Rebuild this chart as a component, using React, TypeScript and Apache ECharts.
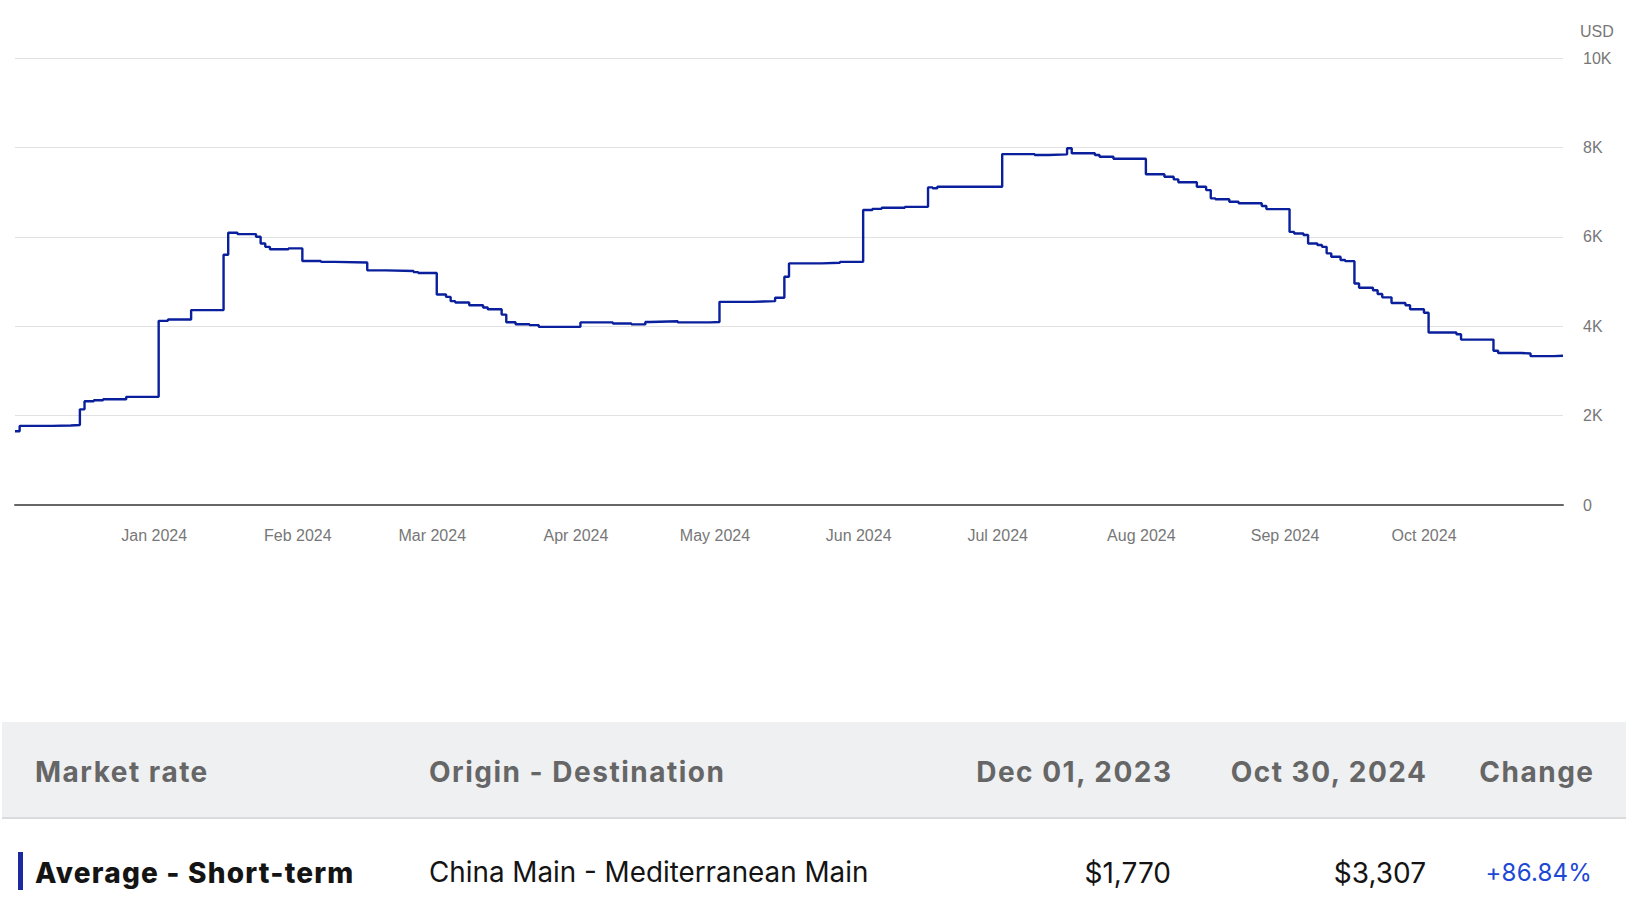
import React, { useEffect, useRef } from 'react';
import * as echarts from 'echarts';

// ---- Data ----
const rateDates: string[] = [
  '2023-12-01', '2023-12-02', '2023-12-09', '2023-12-13', '2023-12-15', '2023-12-16', '2023-12-18', '2023-12-20', '2023-12-25',
  '2024-01-01', '2024-01-03', '2024-01-08', '2024-01-15', '2024-01-16', '2024-01-18', '2024-01-22', '2024-01-23', '2024-01-24', '2024-01-25', '2024-01-29',
  '2024-02-01', '2024-02-05', '2024-02-08', '2024-02-15', '2024-02-19', '2024-02-25', '2024-02-26',
  '2024-03-01', '2024-03-03', '2024-03-04', '2024-03-05', '2024-03-08', '2024-03-11', '2024-03-12', '2024-03-15', '2024-03-16', '2024-03-18', '2024-03-21', '2024-03-23',
  '2024-04-01', '2024-04-08', '2024-04-12', '2024-04-15', '2024-04-16', '2024-04-22', '2024-04-29',
  '2024-05-01', '2024-05-08', '2024-05-13', '2024-05-15', '2024-05-16', '2024-05-23', '2024-05-27',
  '2024-06-01', '2024-06-03', '2024-06-05', '2024-06-10', '2024-06-15', '2024-06-16', '2024-06-17',
  '2024-07-01', '2024-07-08', '2024-07-11', '2024-07-15', '2024-07-16', '2024-07-21', '2024-07-22', '2024-07-25',
  '2024-08-01', '2024-08-05', '2024-08-07', '2024-08-08', '2024-08-12', '2024-08-14', '2024-08-15', '2024-08-16', '2024-08-19', '2024-08-21', '2024-08-26', '2024-08-27',
  '2024-09-01', '2024-09-02', '2024-09-04', '2024-09-05', '2024-09-07', '2024-09-08', '2024-09-09', '2024-09-10', '2024-09-12', '2024-09-13', '2024-09-15', '2024-09-16', '2024-09-19', '2024-09-20', '2024-09-21', '2024-09-23', '2024-09-26', '2024-09-27', '2024-09-30',
  '2024-10-01', '2024-10-07', '2024-10-08', '2024-10-15', '2024-10-16', '2024-10-21', '2024-10-23', '2024-10-28', '2024-10-30',
];

const rateValues: number[] = [
  1650, 1770, 1780, 1790, 2140, 2320, 2345, 2365, 2420,
  4120, 4150, 4360, 5600, 6090, 6060, 6000, 5850, 5775, 5720, 5740,
  5460, 5440, 5425, 5250, 5235, 5210, 5190,
  4710, 4655, 4560, 4530, 4470, 4420, 4380, 4260, 4090, 4045, 4025, 3985,
  4085, 4060, 4040, 4095, 4110, 4085, 4095,
  4545, 4560, 4635, 5105, 5405, 5420, 5440,
  6600, 6625, 6650, 6670, 7105, 7085, 7120,
  7850, 7830, 7845, 7980, 7870, 7830, 7790, 7745,
  7400, 7345, 7285, 7220, 7120, 7045, 6860, 6840, 6785, 6750, 6690, 6620,
  6110, 6075, 6040, 5850, 5815, 5775, 5630, 5555, 5480, 5455, 4955, 4860, 4805, 4720, 4645, 4520, 4470, 4380, 4300,
  3860, 3820, 3700, 3450, 3400, 3390, 3330, 3340, 3340,
];

const axisStart = '2023-12-01';
const axisEnd = '2024-10-30';
const monthTickDates: string[] = [
  '2024-01-01', '2024-02-01', '2024-03-01', '2024-04-01', '2024-05-01',
  '2024-06-01', '2024-07-01', '2024-08-01', '2024-09-01', '2024-10-01',
];
const monthNames: string[] = ['Jan', 'Feb', 'Mar', 'Apr', 'May', 'Jun', 'Jul', 'Aug', 'Sep', 'Oct', 'Nov', 'Dec'];
const yUnit = 'USD';

const tableHeaders: string[] = ['Market rate', 'Origin - Destination', 'Dec 01, 2023', 'Oct 30, 2024', 'Change'];
const tableRow: string[] = ['Average - Short-term', 'China Main - Mediterranean Main', '$1,770', '$3,307', '+86.84%'];

// ---- helpers ----
const ts = (s: string): number => {
  const [y, m, d] = s.split('-').map(Number);
  return new Date(y, m - 1, d).getTime();
};

const LINE_COLOR = '#0a1f9c';
const AXIS_TEXT = '#777777';
const AXIS_FONT = 'Arial, "Liberation Sans", Helvetica, sans-serif';
const TABLE_FONT = 'Inter, "Noto Sans", sans-serif';

function RateChart() {
  const ref = useRef<HTMLDivElement>(null);
  useEffect(() => {
    if (!ref.current) return;
    const chart = echarts.init(ref.current, undefined, { renderer: 'svg' });
    chart.setOption({
      animation: false,
      grid: { left: 15, right: 78, top: 58, height: 447, containLabel: false },
      xAxis: {
        type: 'value',
        min: ts(axisStart),
        max: ts(axisEnd),
        axisLine: { show: true, onZero: false, lineStyle: { color: '#666666', width: 2 } },
        axisTick: { show: false },
        splitLine: { show: false },
        axisLabel: {
          customValues: monthTickDates.map(ts),
          formatter: (v: number) => {
            const d = new Date(v);
            return `${monthNames[d.getMonth()]} ${d.getFullYear()}`;
          },
          color: AXIS_TEXT,
          fontSize: 16,
          fontFamily: AXIS_FONT,
          margin: 22,
          padding: [0, 9, 0, 0],
        },
      },
      yAxis: {
        type: 'value',
        position: 'right',
        min: 0,
        max: 10000,
        interval: 2000,
        name: yUnit,
        nameLocation: 'end',
        nameGap: 27,
        nameTextStyle: {
          align: 'left',
          verticalAlign: 'middle',
          color: AXIS_TEXT,
          fontSize: 16,
          fontFamily: AXIS_FONT,
          padding: [0, 0, 0, 17],
        },
        axisLine: { show: false },
        axisTick: { show: false },
        splitLine: { show: true, lineStyle: { color: '#e2e2e2', width: 1 } },
        axisLabel: {
          formatter: (v: number) => (v === 0 ? '0' : `${v / 1000}K`),
          align: 'left',
          margin: 20,
          color: AXIS_TEXT,
          fontSize: 16,
          fontFamily: AXIS_FONT,
        },
      },
      series: [
        {
          type: 'line',
          step: 'end',
          data: rateDates.map((d, i) => [ts(d), rateValues[i]]),
          showSymbol: false,
          symbol: 'none',
          lineStyle: { color: LINE_COLOR, width: 2.4 },
          itemStyle: { color: LINE_COLOR },
        },
      ],
    });
    return () => chart.dispose();
  }, []);
  return <div ref={ref} style={{ position: 'absolute', left: 0, top: 0, width: 1641, height: 600 }} />;
}

const headerStyle: React.CSSProperties = {
  position: 'absolute',
  top: 772,
  transform: 'translateY(-50%)',
  fontFamily: TABLE_FONT,
  fontWeight: 700,
  fontSize: 28,
  letterSpacing: 1.5,
  color: '#666666',
  whiteSpace: 'nowrap',
  lineHeight: 1,
};

const rowStyle: React.CSSProperties = {
  position: 'absolute',
  top: 873,
  transform: 'translateY(-50%)',
  fontFamily: TABLE_FONT,
  fontWeight: 400,
  fontSize: 28,
  color: '#141414',
  whiteSpace: 'nowrap',
  lineHeight: 1,
};

function RateTable() {
  const leftCols = [35, 429];
  const rightCols = [1171, 1426, 1593];
  return (
    <>
      <div
        style={{
          position: 'absolute',
          left: 2,
          top: 722,
          width: 1624,
          height: 95,
          background: '#eff0f2',
          borderBottom: '2px solid #dadbdd',
        }}
      />
      {tableHeaders.map((h, i) => (
        <div
          key={h}
          style={
            i < 2
              ? { ...headerStyle, left: leftCols[i] }
              : { ...headerStyle, right: 1641 - rightCols[i - 2], marginRight: -1.5 }
          }
        >
          {h}
        </div>
      ))}
      <div style={{ position: 'absolute', left: 18, top: 852, width: 5, height: 38, background: '#1b2a9e' }} />
      <div style={{ ...rowStyle, left: 35, fontWeight: 800, letterSpacing: 1.2 }}>{tableRow[0]}</div>
      <div style={{ ...rowStyle, left: 429, fontSize: 27.8 }}>{tableRow[1]}</div>
      <div style={{ ...rowStyle, right: 1641 - 1171 }}>{tableRow[2]}</div>
      <div style={{ ...rowStyle, right: 1641 - 1426 }}>{tableRow[3]}</div>
      <div style={{ ...rowStyle, right: 1641 - 1592, color: '#1c48d4', fontSize: 24, letterSpacing: 0.2 }}>{tableRow[4]}</div>
    </>
  );
}

export default function App() {
  return (
    <div
      style={{
        position: 'fixed',
        left: 0,
        top: 0,
        width: 1641,
        height: 907,
        background: '#ffffff',
        overflow: 'hidden',
      }}
    >
      <RateChart />
      <RateTable />
    </div>
  );
}
